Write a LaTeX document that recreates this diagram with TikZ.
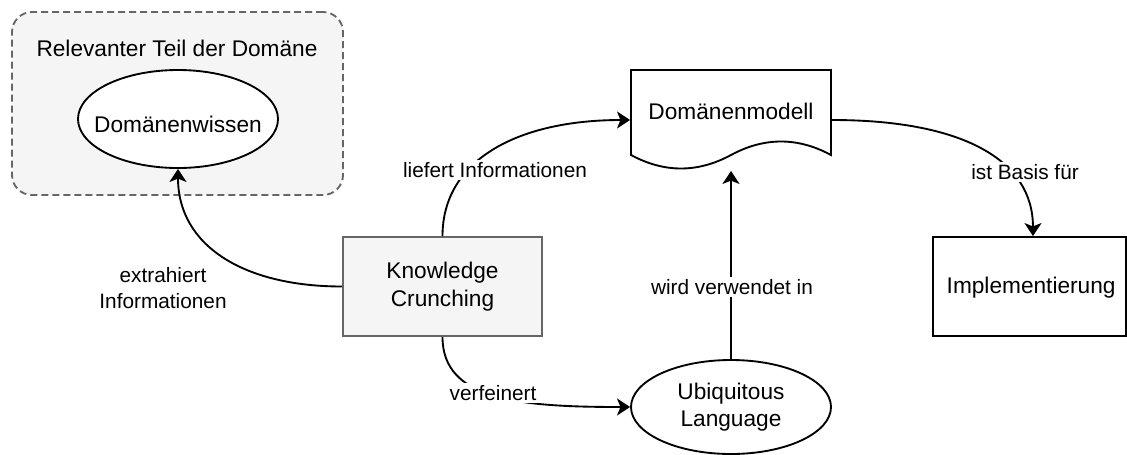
\documentclass[tikz,border=0pt]{standalone}
\usepackage{fontspec}
\setmainfont{Liberation Sans}
\usetikzlibrary{arrows.meta,shapes.geometric}
\definecolor{boxfill}{HTML}{F5F5F5}
\definecolor{boxline}{HTML}{666666}
\begin{document}
\begin{tikzpicture}[x=0.75pt,y=-0.75pt,
  line width=1.4pt,
  nodefont/.style={font=\fontsize{17}{20.5}\selectfont},
  edgefont/.style={font=\fontsize{15.6}{20}\selectfont},
  conn/.style={-{Stealth[length=9.75pt,width=12.75pt,inset=2.5pt]}},
  edgelabel/.style={edgefont, fill=white, inner sep=2pt, align=center},
  region/.style={draw=boxline, fill=boxfill, dash pattern=on 5.25pt off 3pt,
    rounded corners=15pt, inner sep=0pt},
  ellnode/.style={ellipse, draw=black, fill=white, inner sep=0pt,
    minimum width=150pt},
  processbox/.style={rectangle, draw=boxline, fill=boxfill, inner sep=0pt,
    minimum width=149.25pt, minimum height=74.25pt, nodefont, align=center},
  plainbox/.style={rectangle, draw=black, fill=white, inner sep=0pt,
    minimum width=144.75pt, minimum height=74.25pt},
]
\useasboundingbox (0,0) rectangle (1127,454);

% domain region with its knowledge
\node[region, minimum width=248.25pt, minimum height=137.25pt] (region) at (177.5,103.5) {};
\node[nodefont] (regiontitle) at (177,48) {Relevanter Teil der Domäne};
\node[ellnode, minimum height=73.5pt,
  label={[nodefont, yshift=-4pt]center:Domänenwissen}] (dw) at (178,119) {};

% knowledge crunching
\node[processbox] (kc) at (442.5,286.5) {Knowledge\\Crunching};

% domain model (document shape)
\draw[fill=white] (631,70) -- (831,70) -- (831,155)
  .. controls (797.67,137) and (764.33,137) .. (731,155)
  .. controls (697.67,173) and (664.33,173) .. (631,155) -- cycle;
\node[minimum width=150pt, minimum height=75pt, inner sep=0pt] (dm) at (731,120) {};
\node[nodefont] (dmtext) at (731,111) {Domänenmodell};

% ubiquitous language
\node[ellnode, minimum height=70.5pt,
  label={[nodefont, align=center]center:Ubiquitous\\Language}] (ul) at (731,407) {};

% implementation
\node[plainbox, label={[nodefont, xshift=1.2pt, yshift=-1.2pt]center:Implementierung}] (impl) at (1029.5,286.5) {};

% connectors
\draw[conn] (kc.west) .. controls +(-98,0) and +(0,77) .. (dw.south);
\draw[conn] (kc.north) .. controls +(0,-77) and +(-111,0) .. (dm.west);
\draw[conn] (kc.south) .. controls +(0,63) and +(-112,0) .. (ul.west);
\draw[conn] (ul.north) -- (dm.south);
\draw[conn] (dm.east) .. controls +(129,0) and +(0,-77) .. ([xshift=2.6pt]impl.north);

% connector labels
\node[edgelabel] (lbextract) at (163,288) {extrahiert\\Informationen};
\node[edgelabel] (lbdeliver) at (495,170) {liefert Informationen};
\node[edgelabel] (lbrefine) at (493,393) {verfeinert};
\node[edgelabel] (lbused) at (732,287) {wird verwendet in};
\node[edgelabel] (lbbasis) at (1025,172) {ist Basis für};
\end{tikzpicture}
\end{document}
